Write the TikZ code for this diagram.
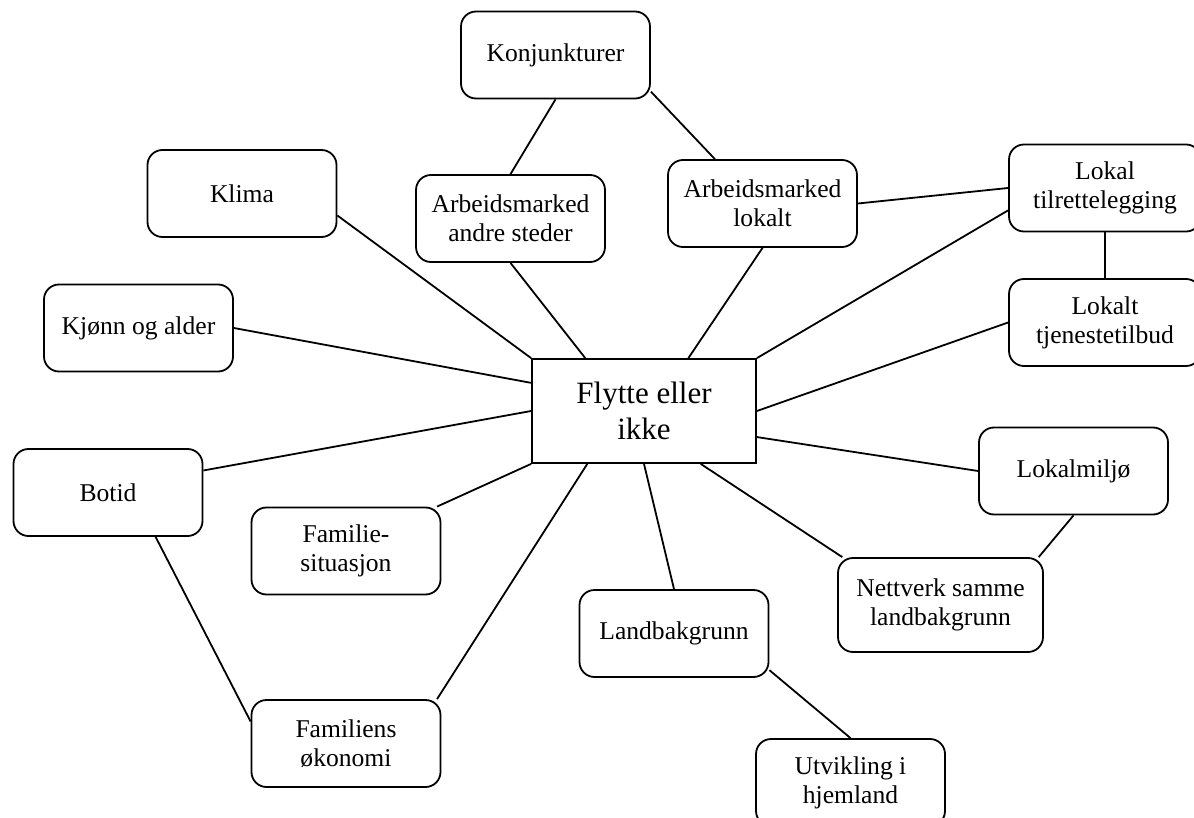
\documentclass[tikz,border=0pt]{standalone}
\usepackage{fontspec}
\setmainfont{Liberation Serif}
\tikzset{
  boks/.style={draw, rounded corners=7.5pt, line width=0.9pt, minimum width=94.5pt,
    minimum height=43.5pt, inner sep=0pt, align=center, font=\fontsize{12.8}{14.6}\selectfont},
  linje/.style={line width=0.9pt}
}
\begin{document}
\begin{tikzpicture}[x=0.5pt, y=-0.5pt]
  \useasboundingbox (0,0) rectangle (1194,818);
  \clip (0,0) rectangle (1194,818);
  %\draw[red, very thin] (0,0) rectangle (1194,818);
  \node[boks] (konj) at (555.5,55) {Konjunkturer};
  \node[boks] (klima) at (242,193.5) {Klima};
  \node[boks] (andre) at (510.5,218.5) {Arbeidsmarked\\andre steder};
  \node[boks] (lokalt) at (762.5,203.5) {Arbeidsmarked\\lokalt};
  \node[boks, minimum width=96pt] (tilrett) at (1105,188) {Lokal\\tilrettelegging};
  \node[boks] (kjonn) at (138.5,328) {Kjønn og alder};
  \node[boks, minimum width=96pt] (tjeneste) at (1105,322.5) {Lokalt\\tjenestetilbud};
  \node[draw, line width=0.9pt, minimum width=112pt, minimum height=52pt, inner sep=0pt,
    align=center, font=\fontsize{15.5}{17.8}\selectfont] (flytte) at (644,411) {Flytte eller\\ikke};
  \node[boks] (miljo) at (1073.5,471) {Lokalmiljø};
  \node[boks] (botid) at (108,492.5) {Botid};
  \node[boks] (familie) at (346,551) {Familie-\\situasjon};
  \node[boks, minimum width=102.5pt, minimum height=47pt] (nettverk) at (940.5,605) {Nettverk samme\\landbakgrunn};
  \node[boks] (land) at (674,633.5) {Landbakgrunn};
  \node[boks] (okonomi) at (346,743.5) {Familiens\\økonomi};
  \node[boks] (utvikling) at (850.5,782.5) {Utvikling i\\hjemland};

  \draw[linje] (konj.south) -- (andre.north);
  \draw[linje] (konj.-21) -- (lokalt.137);
  \draw[linje] (klima.-13) -- (flytte.north west);
  \draw[linje] (andre.south) -- (flytte.138);
  \draw[linje] (lokalt.south) -- (flytte.50);
  \draw[linje] (lokalt.east) -- (tilrett.west);
  \draw[linje] (tilrett.193) -- (flytte.north east);
  \draw[linje] (tilrett.south) -- (tjeneste.north);
  \draw[linje] (kjonn.east) -- (flytte.166);
  \draw[linje] (tjeneste.west) -- (flytte.east);
  \draw[linje] (botid.13) -- (flytte.west);
  \draw[linje] (flytte.-13) -- (miljo.west);
  \draw[linje] (familie.26) -- (flytte.south west);
  \draw[linje] (flytte.223) -- (okonomi.26);
  \draw[linje] (botid.-43) -- (okonomi.167);
  \draw[linje] (flytte.south) -- (land.north);
  \draw[linje] (flytte.-43) -- (nettverk.154);
  \draw[linje] (miljo.south) -- (nettverk.26);
  \draw[linje] (land.-21) -- (utvikling.north);
\end{tikzpicture}
\end{document}
